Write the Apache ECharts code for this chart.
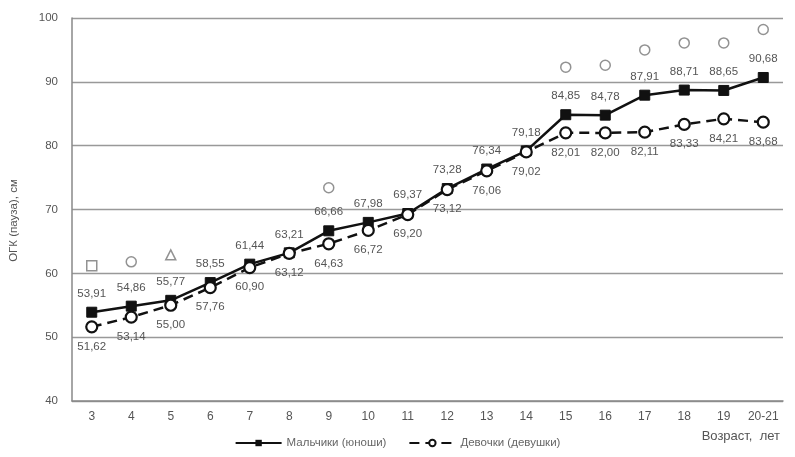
<!DOCTYPE html>
<html>
<head>
<meta charset="utf-8">
<script src="https://cdn.jsdelivr.net/npm/echarts@6/dist/echarts.min.js"></script>
<style>
html,body{margin:0;padding:0;background:#fff;}
#c{width:795px;height:457px;}
</style>
</head>
<body>
<div id="c"></div>
<script>
var categories = ['3','4','5','6','7','8','9','10','11','12','13','14','15','16','17','18','19','20-21'];
var boys = [53.91, 54.86, 55.77, 58.55, 61.44, 63.21, 66.66, 67.98, 69.37, 73.28, 76.34, 79.18, 84.85, 84.78, 87.91, 88.71, 88.65, 90.68];
var girls = [51.62, 53.14, 55.00, 57.76, 60.90, 63.12, 64.63, 66.72, 69.20, 73.12, 76.06, 79.02, 82.01, 82.00, 82.11, 83.33, 84.21, 83.68];
// significance markers drawn above the lines
var markerValues = [61.2, 61.8, 62.9, null, null, null, 73.4, null, null, null, null, null, 92.3, 92.6, 95.0, 96.1, 96.1, 98.2];
var markerSymbols = ['rect','circle','triangle',null,null,null,'circle',null,null,null,null,null,'circle','circle','circle','circle','circle','circle'];
var yTicks = {min: 40, max: 100, interval: 10};

var fmt = function (p) { return p.value.toFixed(2).replace('.', ','); };
var font = 'Liberation Sans, Arial, sans-serif';

var chart = echarts.init(document.getElementById('c'), null, {renderer: 'canvas'});
chart.setOption({
  backgroundColor: '#fff',
  animation: false,
  textStyle: {fontFamily: font},
  grid: {left: 69, right: 12, top: 18, bottom: 56, containLabel: false},
  legend: {
    bottom: 3,
    left: 'center',
    itemWidth: 46,
    itemHeight: 8,
    itemGap: 22,
    textStyle: {fontSize: 11.5, color: '#666', fontFamily: font},
    data: ['Мальчики (юноши)', 'Девочки (девушки)']
  },
  xAxis: {
    type: 'category',
    data: categories,
    boundaryGap: true,
    name: 'Возраст,  лет',
    nameLocation: 'end',
    nameGap: 0,
    nameTextStyle: {align: 'right', verticalAlign: 'top', padding: [29, 3, 0, 0], fontSize: 13, color: '#555'},
    axisLine: {show: true, lineStyle: {color: '#888', width: 1.5}},
    axisTick: {show: false},
    axisLabel: {color: '#555', fontSize: 12, margin: 10, interval: 0},
    splitLine: {show: false}
  },
  yAxis: {
    type: 'value',
    min: yTicks.min,
    max: yTicks.max,
    interval: yTicks.interval,
    name: 'ОГК (пауза), см',
    nameLocation: 'middle',
    nameGap: 52,
    nameTextStyle: {fontSize: 11.5, color: '#555', padding: [0, 0, 0, -22]},
    axisLine: {show: true, lineStyle: {color: '#888', width: 1.5}},
    axisTick: {show: false},
    axisLabel: {color: '#555', fontSize: 11.5, margin: 14},
    splitLine: {show: true, lineStyle: {color: '#999', width: 1.3}}
  },
  series: [
    {
      name: 'Мальчики (юноши)',
      type: 'line',
      data: boys,
      symbol: 'rect',
      symbolSize: 10,
      lineStyle: {color: '#111', width: 2.5},
      itemStyle: {color: '#111', borderColor: '#111'},
      label: {show: true, position: 'top', distance: 7, formatter: fmt, color: '#555', fontSize: 11.5},
      z: 3
    },
    {
      name: 'Девочки (девушки)',
      type: 'line',
      data: girls,
      symbol: 'circle',
      symbolSize: 11,
      lineStyle: {color: '#111', width: 2.5, type: [10, 6]},
      itemStyle: {color: '#fff', borderColor: '#111', borderWidth: 2.2},
      label: {show: true, position: 'bottom', distance: 7, formatter: fmt, color: '#555', fontSize: 11.5},
      z: 4
    },
    {
      name: 'markers',
      type: 'scatter',
      data: markerValues,
      symbol: function (v, p) { return markerSymbols[p.dataIndex] || 'none'; },
      symbolSize: 10,
      itemStyle: {color: '#fff', borderColor: '#777', borderWidth: 1.5},
      z: 2
    }
  ]
});
</script>
</body>
</html>
